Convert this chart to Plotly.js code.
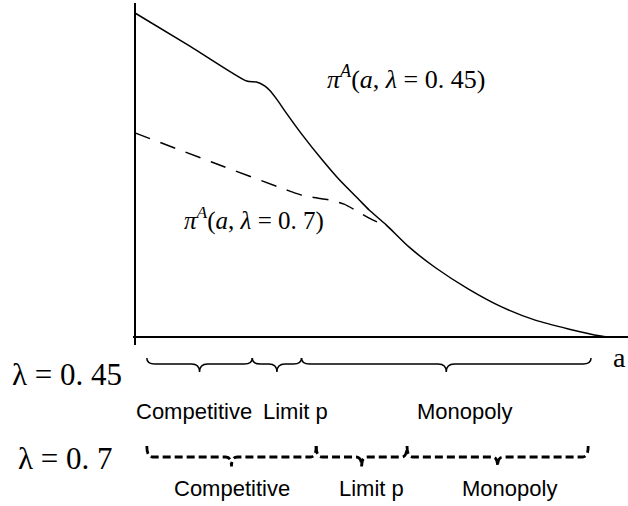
<!DOCTYPE html>
<html>
<head>
<meta charset="utf-8">
<script src="https://cdn.plot.ly/plotly-3.0.1.min.js"></script>
<style>html,body{margin:0;padding:0;background:#fff;}#chart{width:628px;height:506px;}</style>
</head>
<body>
<div id="chart"></div>
<script>
// ---- data ----
// profit curve for lambda = 0.45 (solid)
const a045  = [0, 0.116, 0.236, 0.257, 0.274, 0.284, 0.301, 0.320, 0.354, 0.396, 0.432, 0.474, 0.495, 0.531, 0.579, 0.636, 0.705, 0.775, 0.846, 0.916, 0.985, 1.0];
const pi045 = [1.000, 0.898, 0.790, 0.787, 0.775, 0.762, 0.731, 0.691, 0.623, 0.546, 0.485, 0.423, 0.392, 0.346, 0.278, 0.213, 0.148, 0.093, 0.052, 0.025, 0.003, 0.0];
// profit curve for lambda = 0.7 (dashed, joins the solid curve)
const a07  = [0, 0.162, 0.326, 0.358, 0.385, 0.411, 0.442, 0.469, 0.495, 0.529];
const pi07 = [0.630, 0.540, 0.451, 0.435, 0.429, 0.423, 0.410, 0.389, 0.367, 0.343];
// regime boundaries along a
const bounds045 = [0.025, 0.248, 0.352, 0.964];
const bounds07  = [0.025, 0.383, 0.575, 0.958];
const regimeNames = ['Competitive', 'Limit p', 'Monopoly'];
const curveLabel045 = '<i>π</i><sup><i>A</i></sup>(<i>a</i>, <i>λ</i> = 0. 45)';
const curveLabel07  = '<i>π</i><sup><i>A</i></sup>(<i>a</i>, <i>λ</i> = 0. 7)';
const rowLabel045 = 'λ = 0. 45';
const rowLabel07  = 'λ = 0. 7';
const axisLabelA = 'a';

// ---- drawing ----
const serif = 'Liberation Serif, Times New Roman, serif';
const sans = 'Liberation Sans, Arial, sans-serif';

function bracePath(x0, x1, yTip, yLine, yPoint, r) {
  const xm = (x0 + x1) / 2;
  return 'M' + x0 + ',' + yTip +
    ' Q' + x0 + ',' + yLine + ' ' + (x0 + r) + ',' + yLine +
    ' L' + (xm - r) + ',' + yLine +
    ' Q' + xm + ',' + yLine + ' ' + xm + ',' + yPoint +
    ' Q' + xm + ',' + yLine + ' ' + (xm + r) + ',' + yLine +
    ' L' + (x1 - r) + ',' + yLine +
    ' Q' + x1 + ',' + yLine + ' ' + x1 + ',' + yTip;
}

const shapes = [];
for (let i = 0; i < 3; i++) {
  shapes.push({type: 'path', xref: 'x', yref: 'paper',
    path: bracePath(bounds045[i], bounds045[i + 1], -0.038, -0.0556, -0.0789, 0.017),
    line: {color: '#000', width: 1.5}});
  shapes.push({type: 'path', xref: 'x', yref: 'paper',
    path: bracePath(bounds07[i], bounds07[i + 1], -0.295, -0.3275, -0.355, 0.012),
    line: {color: '#000', width: 2.8, dash: '8px,4px'}});
}

const row1X = [0.124, 0.339, 0.697];
const row2X = [0.206, 0.499, 0.792];
const annotations = [];
regimeNames.forEach((n, i) => {
  annotations.push({text: n, xref: 'x', yref: 'paper', x: row1X[i], y: -0.193,
    showarrow: false, xanchor: 'center', yanchor: 'middle', font: {family: sans, size: 22, color: '#000'}});
  annotations.push({text: n, xref: 'x', yref: 'paper', x: row2X[i], y: -0.421,
    showarrow: false, xanchor: 'center', yanchor: 'middle', font: {family: sans, size: 22, color: '#000'}});
});
annotations.push({text: rowLabel045, xref: 'paper', yref: 'paper', x: -0.1333, y: -0.0848,
  showarrow: false, xanchor: 'center', yanchor: 'middle', font: {family: serif, size: 31, color: '#000'}});
annotations.push({text: rowLabel07, xref: 'paper', yref: 'paper', x: -0.137, y: -0.3333,
  showarrow: false, xanchor: 'center', yanchor: 'middle', font: {family: serif, size: 31, color: '#000'}});
annotations.push({text: axisLabelA, xref: 'x', yref: 'paper', x: 1.025, y: -0.036,
  showarrow: false, xanchor: 'center', yanchor: 'middle', font: {family: serif, size: 28, color: '#000'}});
annotations.push({text: curveLabel045, xref: 'x', yref: 'y', x: 0.573, y: 0.80,
  showarrow: false, xanchor: 'center', yanchor: 'middle', font: {family: serif, size: 26, color: '#000'}});
annotations.push({text: curveLabel07, xref: 'x', yref: 'y', x: 0.2505, y: 0.365,
  showarrow: false, xanchor: 'center', yanchor: 'middle', font: {family: serif, size: 25, color: '#000'}});

const traces = [
  {x: a07, y: pi07, mode: 'lines', line: {color: '#000', width: 1.5, dash: '16px,11px', shape: 'spline', smoothing: 0.6}, hoverinfo: 'skip'},
  {x: a045, y: pi045, mode: 'lines', line: {color: '#000', width: 1.5, shape: 'spline', smoothing: 0.6}, hoverinfo: 'skip'}
];

const layout = {
  width: 628, height: 506,
  margin: {l: 133, r: 0, t: 3, b: 161, pad: 0},
  paper_bgcolor: '#fff', plot_bgcolor: '#fff',
  showlegend: false,
  xaxis: {range: [-2 / 475, 495 / 475], showgrid: false, showticklabels: false, ticks: '',
    zeroline: true, zerolinecolor: '#000', zerolinewidth: 1.5, showline: false, fixedrange: true},
  yaxis: {range: [-8 / 324, 334 / 324], showgrid: false, showticklabels: false, ticks: '',
    zeroline: true, zerolinecolor: '#000', zerolinewidth: 1.5, showline: false, fixedrange: true},
  shapes: shapes,
  annotations: annotations
};

Plotly.newPlot('chart', traces, layout, {staticPlot: true, displayModeBar: false});
</script>
</body>
</html>
